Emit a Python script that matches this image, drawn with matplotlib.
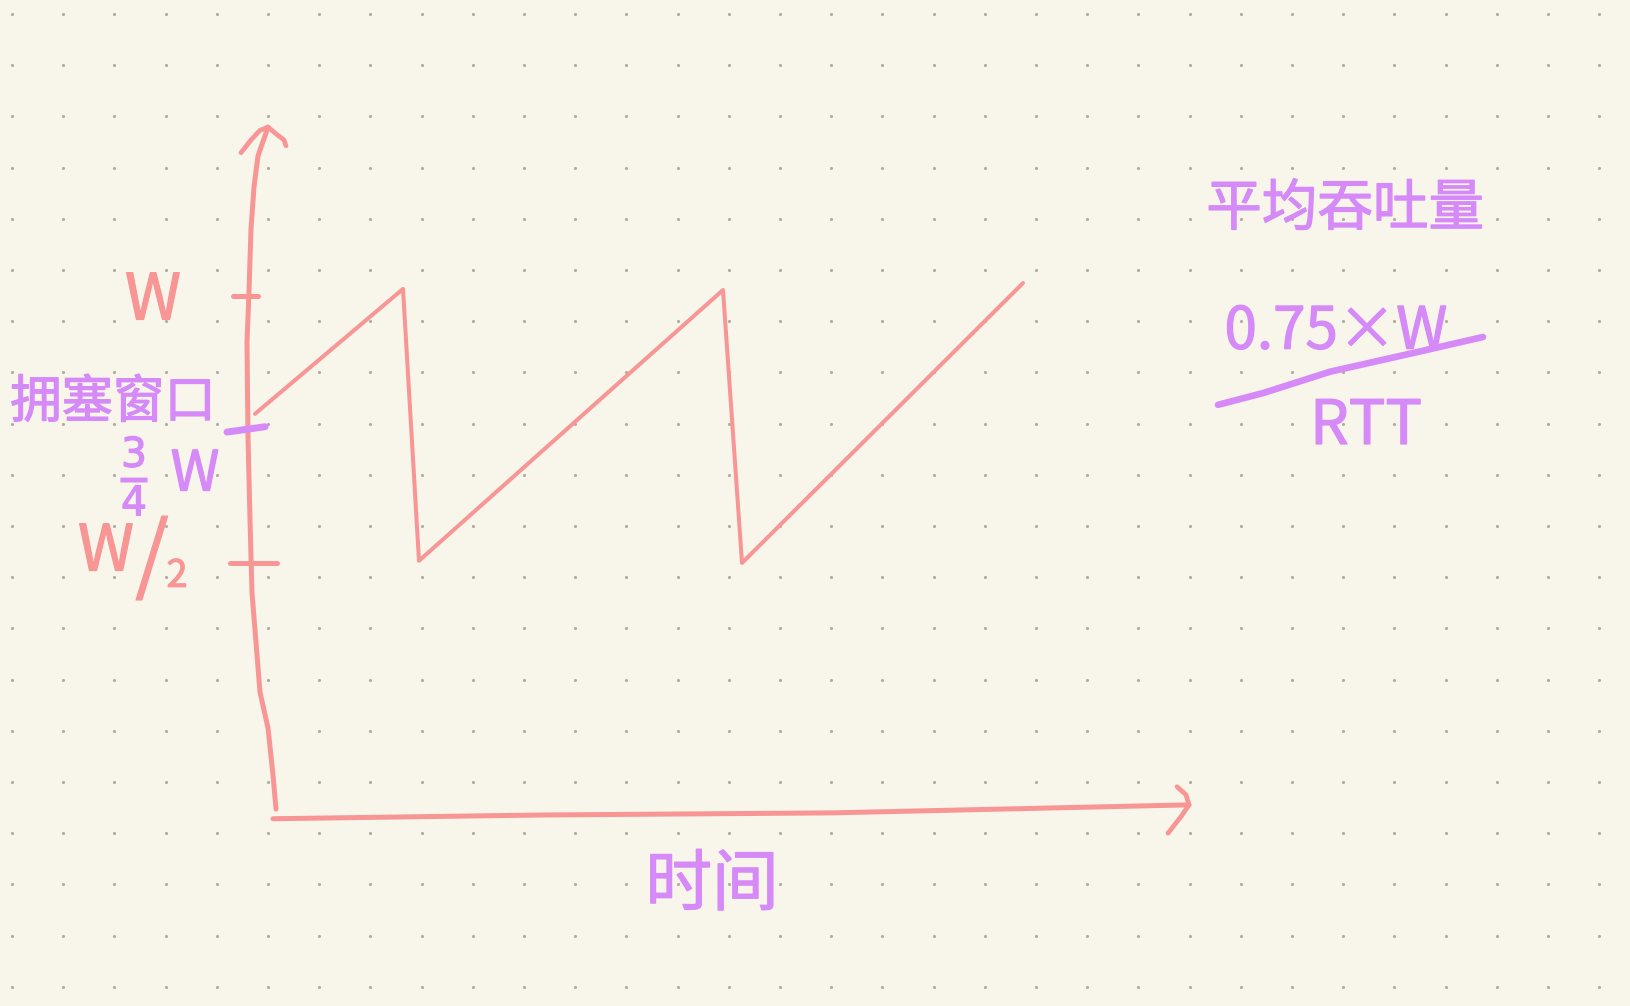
import numpy as np
import matplotlib.pyplot as plt
import matplotlib.patheffects as pe

plt.rcParams['font.family'] = ['Noto Sans CJK SC', 'DejaVu Sans']

# congestion window sawtooth (time in arbitrary units, window in units of W)
time = [0.0, 1.48, 1.64, 4.68, 4.87, 7.68]
cwnd = [0.779, 1.013, 0.504, 1.011, 0.500, 1.024]

# hand drawn axes
yaxis_t = [0.21, 0.18, 0.13, 0.05, 0.02, -0.03, -0.05, -0.07, -0.08, -0.06, -0.04, -0.01, 0.03, 0.13]
yaxis_w = [0.039, 0.103, 0.191, 0.258, 0.328, 0.444, 0.581, 0.736, 0.912, 1.009, 1.125, 1.204,
           1.262, 1.316]
xaxis_t = [0.18, 2.86, 5.77, 9.34]
xaxis_w = [0.021, 0.028, 0.032, 0.047]

tick_levels = [1.0, 0.75, 0.5]
frac_t = [9.63, 10.08, 10.75, 11.58, 12.28]
frac_w = [0.796, 0.818, 0.858, 0.893, 0.923]

SALMON = '#f79694'
PURPLE = '#d58af8'
BG = '#f8f6ea'

fig = plt.figure(figsize=(16.31, 10.06), dpi=100)
fig.patch.set_facecolor(BG)

# dotted paper
bg = fig.add_axes([0, 0, 1, 1])
bg.set_xlim(0, 1631)
bg.set_ylim(1006, 0)
bg.axis('off')
gx, gy = np.meshgrid(np.arange(12, 1631, 51.2), np.arange(14, 1006, 51.2))
bg.scatter(gx.ravel(), gy.ravel(), s=5, color='#aeada4', lw=0)

ax = fig.add_axes([0, 0, 1, 1])
ax.patch.set_alpha(0)
ax.set_xlim(-2.55, 13.76)
ax.set_ylim(-0.3296, 1.554)
ax.axis('off')

line_kw = dict(solid_capstyle='round', solid_joinstyle='round')

# axes with arrows
ax.plot(yaxis_t, yaxis_w, color=SALMON, lw=3.6, **line_kw)
ax.plot([-0.14, -0.04, 0.05, 0.13], [1.268, 1.292, 1.310, 1.316], color=SALMON, lw=3.4, **line_kw)
ax.plot([0.13, 0.22, 0.29, 0.31], [1.316, 1.302, 1.292, 1.281], color=SALMON, lw=3.4, **line_kw)
ax.plot(xaxis_t, xaxis_w, color=SALMON, lw=3.6, **line_kw)
ax.plot([9.22, 9.31, 9.34], [0.081, 0.066, 0.047], color=SALMON, lw=3.4, **line_kw)
ax.plot([9.34, 9.26, 9.13], [0.047, 0.025, -0.006], color=SALMON, lw=3.4, **line_kw)

# ticks
ax.plot([-0.22, 0.03], [tick_levels[0]] * 2, color=SALMON, lw=3.6, **line_kw)
ax.plot([-0.28, 0.10], [tick_levels[1] - 0.005, tick_levels[1] + 0.005], color=PURPLE, lw=5, **line_kw)
ax.plot([-0.25, 0.22], [tick_levels[2]] * 2, color=SALMON, lw=3.6, **line_kw)

# sawtooth
ax.plot(time, cwnd, color=SALMON, lw=2.9, **line_kw)


def label(x, y, s, color, size):
    ax.text(x, y, s, color=color, fontsize=size, ha='center', va='center',
            path_effects=[pe.withStroke(linewidth=0.9, foreground=color)])


label(-1.02, 0.99, 'W', SALMON, 46)
label(-1.42, 0.80, '拥塞窗口', PURPLE, 37)
label(-1.20, 0.663, r'$\frac{3}{4}$', PURPLE, 42)
label(-0.60, 0.665, 'W', PURPLE, 40)
label(-1.49, 0.52, 'W', SALMON, 46)
label(-1.03, 0.505, '/', SALMON, 62)
label(-0.78, 0.475, '2', SALMON, 27)

label(10.90, 1.162, '平均吞吐量', PURPLE, 40)
label(10.81, 0.932, '0.75×W', PURPLE, 42)
ax.plot(frac_t, frac_w, color=PURPLE, lw=4.8, **line_kw)
label(11.11, 0.755, 'RTT', PURPLE, 44)
label(4.57, -0.105, '时间', PURPLE, 48)

fig.savefig('out.png', dpi=100, facecolor=BG)
